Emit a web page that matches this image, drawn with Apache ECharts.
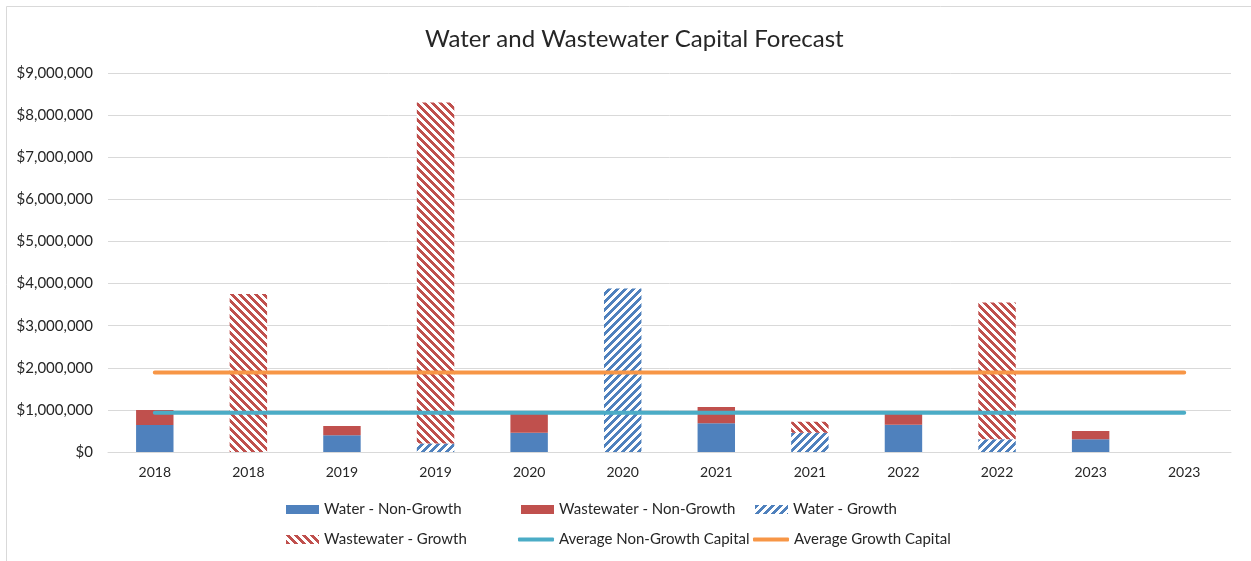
<!DOCTYPE html>
<html>
<head>
<meta charset="utf-8">
<title>Water and Wastewater Capital Forecast</title>
<script src="https://cdn.jsdelivr.net/npm/echarts@6/dist/echarts.min.js"></script>
<style>
  html, body { margin: 0; padding: 0; background: #fff; }
  #chart { width: 1251px; height: 561px; }
</style>
</head>
<body>
<div id="chart"></div>
<script>
// categories: each year appears twice (non-growth column, then growth column)
const categories = ['2018', '2018', '2019', '2019', '2020', '2020', '2021', '2021', '2022', '2022', '2023', '2023'];

const waterNonGrowth      = [640000, 0, 400000, 0, 460000, 0, 680000, 0, 650000, 0, 300000, 0];
const wastewaterNonGrowth = [360000, 0, 220000, 0, 440000, 0, 390000, 0, 270000, 0, 200000, 0];
const waterGrowth         = [0, 0, 0, 200000, 0, 3880000, 0, 460000, 0, 300000, 0, 0];
const wastewaterGrowth    = [0, 3750000, 0, 8100000, 0, 0, 0, 260000, 0, 3250000, 0, 0];

const avgNonGrowth = [930000, 930000, 930000, 930000, 930000, 930000, 930000, 930000, 930000, 930000, 930000, 930000];
const avgGrowth    = [1890000, 1890000, 1890000, 1890000, 1890000, 1890000, 1890000, 1890000, 1890000, 1890000, 1890000, 1890000];

const BLUE = '#4F81BD';
const RED = '#C0504D';
const TEAL = '#4BACC6';
const ORANGE = '#F79646';
const FONT = 'Lato, "Liberation Sans", sans-serif';
const TEXT = '#262626';

// small tile with wide diagonal stripes, like Excel's pattern fill
function hatch(color, down) {
    const size = 8;
    const c = document.createElement('canvas');
    c.width = size;
    c.height = size;
    const ctx = c.getContext('2d');
    ctx.fillStyle = '#fff';
    ctx.fillRect(0, 0, size, size);
    ctx.fillStyle = color;
    for (let y = 0; y < size; y++) {
        for (let x = 0; x < size; x++) {
            const k = down ? (x - y + size * 2) % size : (x + y) % size;
            if (k < 4) ctx.fillRect(x, y, 1, 1);
        }
    }
    return { image: c, repeat: 'repeat' };
}

const chart = echarts.init(document.getElementById('chart'));

function barSeries(name, data, color) {
    return {
        name: name,
        type: 'bar',
        stack: 'total',
        barWidth: '40%',
        data: data,
        itemStyle: { color: color },
        emphasis: { disabled: true }
    };
}

function lineSeries(name, data, color) {
    return {
        name: name,
        type: 'line',
        data: data,
        symbol: 'none',
        z: 5,
        lineStyle: { color: color, width: 4, cap: 'round' },
        itemStyle: { color: color }
    };
}

// one legend per item so each sits in its own slot, as in the original
function legendItem(name, left, top, isLine) {
    return {
        left: left,
        top: top,
        padding: 0,
        itemWidth: isLine ? 36 : 33,
        itemHeight: isLine ? 4 : 9,
        itemGap: 0,
        icon: isLine ? 'roundRect' : 'rect',
        textStyle: { fontFamily: FONT, fontSize: 15, color: TEXT },
        data: [name]
    };
}

chart.setOption({
    animation: false,
    backgroundColor: '#fff',
    textStyle: { fontFamily: FONT },
    title: {
        text: 'Water and Wastewater Capital Forecast',
        left: 420,
        top: 22,
        textStyle: { fontFamily: FONT, fontSize: 24, fontWeight: 'normal', color: TEXT }
    },
    graphic: [{
        type: 'rect',
        shape: { x: 6.5, y: 6.5, width: 1260, height: 570 },
        style: { fill: 'none', stroke: '#D9D9D9', lineWidth: 1 },
        silent: true
    }],
    legend: [
        legendItem('Water - Non-Growth', 286, 502, false),
        legendItem('Wastewater - Non-Growth', 521, 502, false),
        legendItem('Water - Growth', 755, 502, false),
        legendItem('Wastewater - Growth', 286, 532, false),
        legendItem('Average Non-Growth Capital', 518, 532, true),
        legendItem('Average Growth Capital', 753, 532, true)
    ],
    grid: { left: 108, right: 20, top: 73, bottom: 109, containLabel: false },
    xAxis: {
        type: 'category',
        data: categories,
        axisLine: { lineStyle: { color: '#D9D9D9' } },
        axisTick: { show: false },
        axisLabel: { color: TEXT, fontFamily: FONT, fontSize: 14, margin: 13 }
    },
    yAxis: {
        type: 'value',
        min: 0,
        max: 9000000,
        interval: 1000000,
        axisLine: { show: false },
        axisTick: { show: false },
        splitLine: { lineStyle: { color: '#D9D9D9' } },
        axisLabel: {
            color: TEXT,
            fontFamily: FONT,
            fontSize: 15,
            margin: 15,
            formatter: v => '$' + v.toLocaleString('en-US')
        }
    },
    series: [
        barSeries('Water - Non-Growth', waterNonGrowth, BLUE),
        barSeries('Wastewater - Non-Growth', wastewaterNonGrowth, RED),
        barSeries('Water - Growth', waterGrowth, hatch(BLUE, false)),
        barSeries('Wastewater - Growth', wastewaterGrowth, hatch(RED, true)),
        lineSeries('Average Non-Growth Capital', avgNonGrowth, TEAL),
        lineSeries('Average Growth Capital', avgGrowth, ORANGE)
    ]
});
</script>
</body>
</html>
